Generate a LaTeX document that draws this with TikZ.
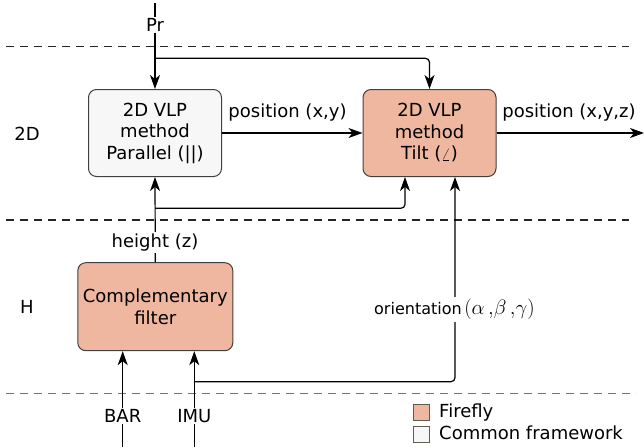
\documentclass[tikz,border=0pt]{standalone}
\usepackage{fontspec}
\setmainfont{DejaVu Sans}
\usetikzlibrary{arrows.meta}
\definecolor{firefly}{HTML}{EFB7A0}
\definecolor{common}{HTML}{F7F7F7}
\definecolor{legborder}{HTML}{5E5E4E}
\begin{document}
\begin{tikzpicture}[x=1pt,y=-1pt,
  font=\fontsize{18}{21.5}\selectfont,
  conn/.style={line width=1.2pt, -{Stealth[length=14pt,width=10pt,inset=4pt]}, rounded corners=4pt},
  plain/.style={line width=1.2pt, rounded corners=4pt},
  block/.style={draw=black!75, line width=1pt, rounded corners=8pt, align=center,
    minimum width=133pt, minimum height=87pt, inner sep=0pt},
  sep/.style={dash pattern=on 8pt off 6pt, line width=1.1pt},
  lbl/.style={fill=white, inner sep=1.5pt},
  legbox/.style={draw=legborder, line width=1pt, minimum width=16pt, minimum height=16.5pt, inner sep=0pt}
]
\useasboundingbox (0,0) rectangle (644,447);
% separators
\draw[sep, black!85] (6,46.7) -- (629,46.7);
\draw[sep, black!85] (6,220) -- (629,220);
\draw[sep, black!55] (6,393.3) -- (636,393.3);

% layer labels
\node (lab2d) at (27,134) {2D};
\node (labH) at (27,307) {H};

% blocks
\node[block, fill=common] (par) at (155,133) {2D VLP\\method\\Parallel (||)};
\node[block, fill=firefly] (tilt) at (429.5,133) {2D VLP\\method\\Tilt ($\angle$)};
\node[block, fill=firefly, minimum width=155pt, minimum height=88pt] (comp) at (155.3,306.7) {Complementary\\filter};

% Pr input
\coordinate (prtop) at (155,3);
\node[lbl] (pr) at (155,25) {Pr};
\coordinate (prsplit) at (155,58.3);
\draw[plain] (prtop) -- (pr);
\draw[conn] (pr) -- (par.north);
\draw[conn] (prsplit) -| (tilt.north);

% position (x,y)
\draw[conn] (par.east) -- (tilt.west);
\node (posxy) at (287.5,112.3) {position (x,y)};

% output
\coordinate (outend) at (644,133);
\draw[conn] (tilt.east) -- (outend);
\node (posxyz) at (569,112.7) {position (x,y,z)};

% height
\draw[conn] (comp.north) -- (par.south);
\node[lbl] (height) at (155,242.3) {height (z)};
\coordinate (hsplit) at (155.2,208.3);
\draw[conn] (hsplit) -| ([xshift=-24.5pt]tilt.south);

% BAR / IMU inputs
\coordinate (barbot) at (122.7,447);
\node[lbl] (bar) at (122.7,416) {BAR};
\draw[plain] (barbot) -- (bar);
\draw[conn] (bar) -- (bar |- comp.south);

\coordinate (imubot) at (194.3,447);
\node[lbl] (imu) at (194.3,416) {IMU};
\draw[plain] (imubot) -- (imu);
\draw[conn] (imu) -- (imu |- comp.south);

% orientation
\coordinate (imusplit) at (194.3,381.7);
\draw[conn] (imusplit) -| ([xshift=25.5pt]tilt.south);
\node[lbl, inner sep=2pt] (orient) at (454.4,309.3) {\fontsize{16}{19}\selectfont orientation\,{\fontsize{22}{24}\selectfont$(\alpha\,{,}\beta\,{,}\gamma)$}};

% legend
\node[legbox, fill=firefly] (legf) at (421,412.5) {};
\node[legbox, fill=common] (legc) at (421,434.5) {};
\node[anchor=west, inner sep=0pt] (legft) at (439,412.7) {Firefly};
\node[anchor=west, inner sep=0pt] (legct) at (439,433) {Common framework};
\end{tikzpicture}
\end{document}
